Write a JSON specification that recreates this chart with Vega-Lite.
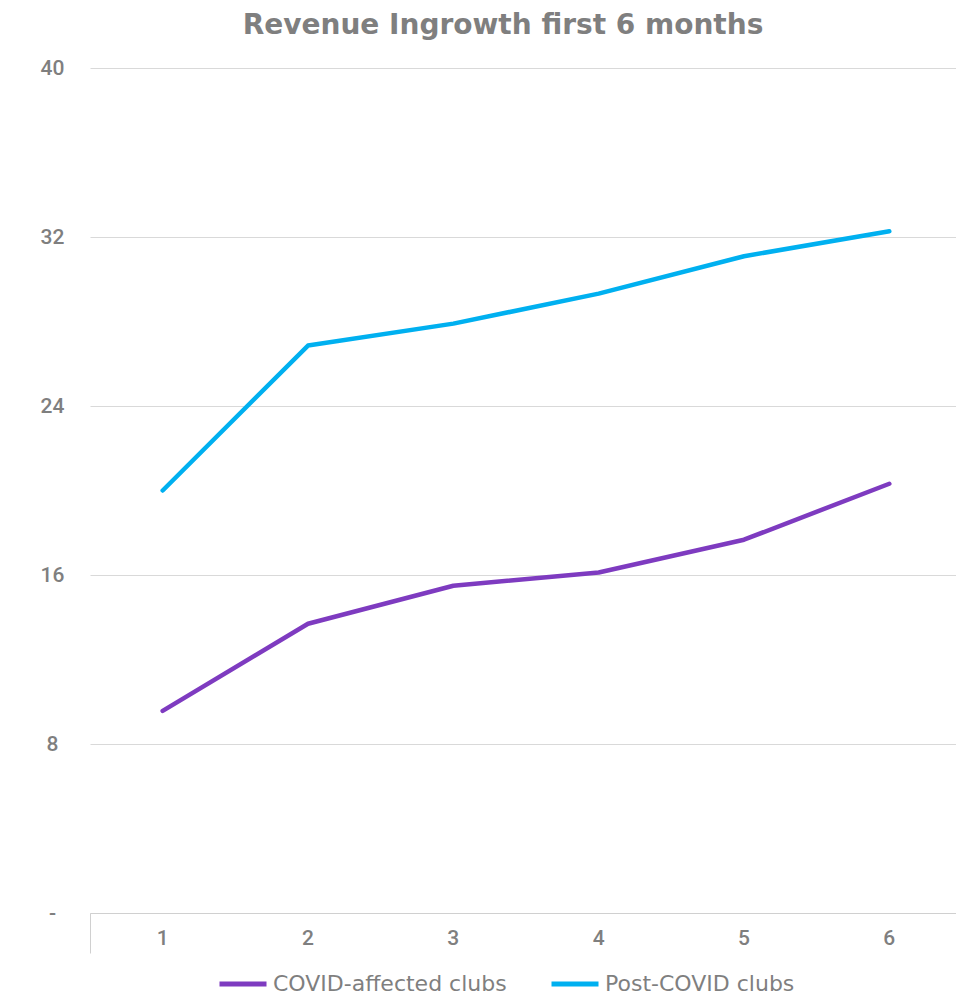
{
  "$schema": "https://vega.github.io/schema/vega-lite/v6.json",
  "width": 872,
  "height": 845,
  "autosize": {"type": "none"},
  "padding": {"left": 90, "top": 68, "right": 0, "bottom": 82},
  "background": "white",
  "title": {
    "text": "Revenue Ingrowth first 6 months",
    "anchor": "middle",
    "frame": "group",
    "offset": 17,
    "dx": -23,
    "font": "DejaVu Sans",
    "fontSize": 28,
    "fontWeight": "bold",
    "color": "#7f7f7f"
  },
  "data": {
    "values": [
      {"month": 1, "group": "COVID-affected clubs", "revenue": 9.57},
      {"month": 2, "group": "COVID-affected clubs", "revenue": 13.69},
      {"month": 3, "group": "COVID-affected clubs", "revenue": 15.49},
      {"month": 4, "group": "COVID-affected clubs", "revenue": 16.12},
      {"month": 5, "group": "COVID-affected clubs", "revenue": 17.67},
      {"month": 6, "group": "COVID-affected clubs", "revenue": 20.32},
      {"month": 1, "group": "Post-COVID clubs", "revenue": 20.0},
      {"month": 2, "group": "Post-COVID clubs", "revenue": 26.86},
      {"month": 3, "group": "Post-COVID clubs", "revenue": 27.9},
      {"month": 4, "group": "Post-COVID clubs", "revenue": 29.32},
      {"month": 5, "group": "Post-COVID clubs", "revenue": 31.09},
      {"month": 6, "group": "Post-COVID clubs", "revenue": 32.27}
    ]
  },
  "mark": {"type": "line", "strokeWidth": 4.5, "strokeCap": "round", "strokeJoin": "round"},
  "encoding": {
    "x": {
      "field": "month",
      "type": "ordinal",
      "scale": {"type": "band", "paddingInner": 0, "paddingOuter": 0},
      "axis": {
        "title": null,
        "labelAngle": 0,
        "labelFont": "Roboto",
        "labelFontSize": 21,
        "labelFontWeight": 500,
        "labelColor": "#7f7f7f",
        "labelBaseline": "top",
        "labelPadding": -26,
        "domainColor": "#d0d0d0",
        "domainWidth": 1,
        "bandPosition": 0,
        "tickSize": 40,
        "tickWidth": 1,
        "tickColor": {"condition": {"test": "datum.value == 1", "value": "#d0d0d0"}, "value": "transparent"},
        "grid": false
      }
    },
    "y": {
      "field": "revenue",
      "type": "quantitative",
      "scale": {"domain": [0, 40], "nice": false},
      "axis": {
        "title": null,
        "values": [0, 8, 16, 24, 32, 40],
        "labelExpr": "datum.value == 0 ? '-' : datum.label",
        "labelFont": "Roboto",
        "labelFontSize": 21,
        "labelFontWeight": 500,
        "labelColor": "#7f7f7f",
        "labelAlign": "center",
        "labelPadding": 38,
        "ticks": false,
        "domain": false,
        "grid": true,
        "gridColor": "#d9d9d9",
        "gridWidth": 1
      }
    },
    "color": {
      "field": "group",
      "type": "nominal",
      "scale": {
        "domain": ["COVID-affected clubs", "Post-COVID clubs"],
        "range": ["#7e3bc0", "#00b0f0"]
      },
      "legend": {
        "title": null,
        "orient": "none",
        "legendX": 127,
        "legendY": 890,
        "direction": "horizontal",
        "symbolType": "stroke",
        "symbolSize": 2209,
        "symbolStrokeWidth": 5,
        "labelFont": "DejaVu Sans",
        "labelFontSize": 22,
        "labelColor": "#7f7f7f",
        "labelOffset": 4,
        "labelLimit": 400,
        "columnPadding": 34
      }
    }
  },
  "config": {"view": {"stroke": null}}
}
